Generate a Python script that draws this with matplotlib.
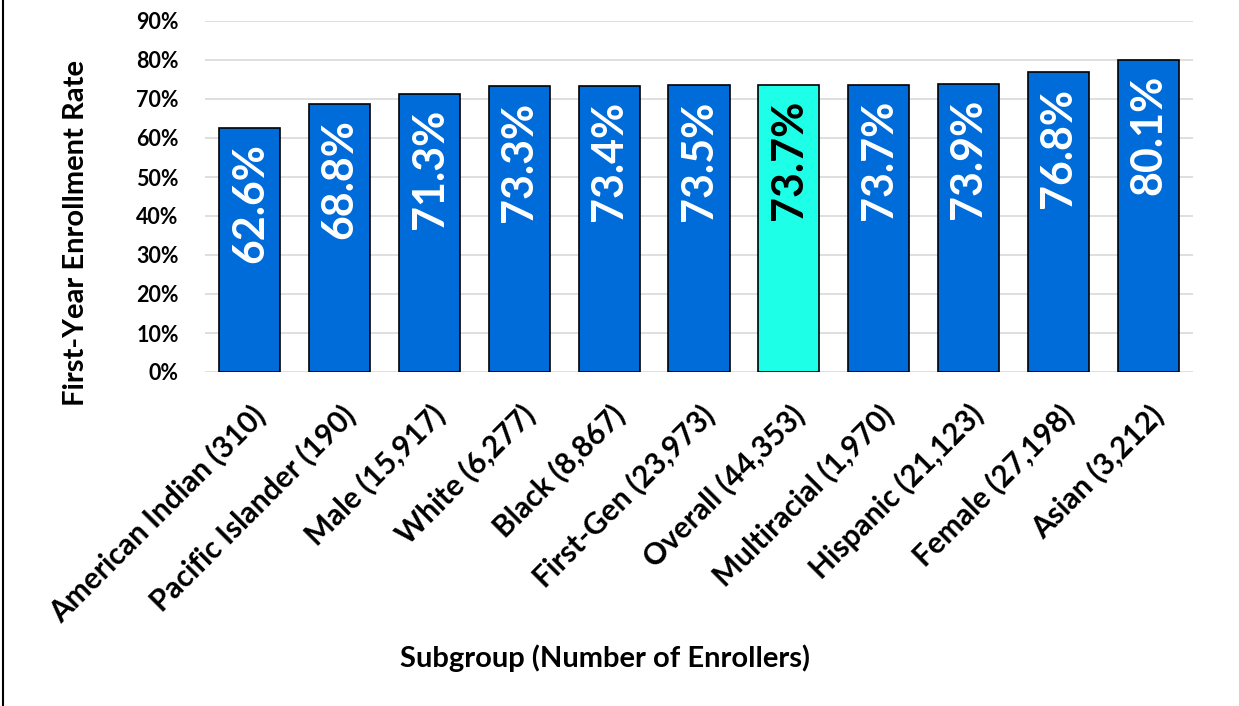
import matplotlib
matplotlib.use("Agg")
import matplotlib.pyplot as plt
from matplotlib.lines import Line2D

# -- Data --
subgroups = [
    "American Indian (310)", "Pacific Islander (190)", "Male (15,917)",
    "White (6,277)", "Black (8,867)", "First-Gen (23,973)", "Overall (44,353)",
    "Multiracial (1,970)", "Hispanic (21,123)", "Female (27,198)", "Asian (3,212)",
]
rates = [62.6, 68.8, 71.3, 73.3, 73.4, 73.5, 73.7, 73.7, 73.9, 76.8, 80.1]
highlight = "Overall (44,353)"
yticks = [0, 10, 20, 30, 40, 50, 60, 70, 80, 90]

# -- Style --
BLUE = "#006CD9"
CYAN = "#1DFFE6"
plt.rcParams["font.family"] = ["Lato", "DejaVu Sans"]
plt.rcParams["font.weight"] = "bold"

W, H = 1239, 706
fig = plt.figure(figsize=(W / 100, H / 100), dpi=100)
ax = fig.add_axes([205 / W, 1 - 372 / H, 988 / W, 351 / H])

x = list(range(len(subgroups)))
colors = [CYAN if s == highlight else BLUE for s in subgroups]
ax.bar(x, rates, width=0.68, color=colors, edgecolor="black",
       linewidth=1.2, zorder=3)

# value labels inside the bar tops
for xi, v, s in zip(x, rates, subgroups):
    ax.annotate(f"{v:.1f}%", (xi, v), xytext=(0, -11), textcoords="offset points",
                rotation=90, ha="center", va="top", fontsize=31, fontweight="bold",
                color="black" if s == highlight else "white", zorder=4)

ax.set_xlim(-0.5, len(subgroups) - 0.5)
ax.set_ylim(0, 90)
ax.set_yticks(yticks)
ax.set_yticklabels([f"{t}%" for t in yticks], fontsize=15.5, fontweight="bold")
ax.yaxis.grid(True, color="#D9D9D9", linewidth=1.2, zorder=0)
ax.set_axisbelow(True)
for sp in ax.spines.values():
    sp.set_visible(False)
ax.tick_params(axis="y", length=0, pad=19)
ax.tick_params(axis="x", length=0, pad=20)

ax.set_xticks(x)
ax.set_xticklabels(subgroups, rotation=45, ha="right", va="top",
                   rotation_mode="anchor", fontsize=21.5, fontweight="bold")

ax.set_ylabel("First-Year Enrollment Rate", fontsize=21, fontweight="bold", va="center")
ax.yaxis.set_label_coords(-0.1306, 0.395)
ax.set_xlabel("Subgroup (Number of Enrollers)", fontsize=21, fontweight="bold", va="center")
ax.xaxis.set_label_coords(0.405, -0.815)

# left edge of the chart frame
fig.add_artist(Line2D([3 / W, 3 / W], [0, 1], transform=fig.transFigure,
                      color="black", linewidth=1.5))

fig.savefig("out.png", dpi=100)
